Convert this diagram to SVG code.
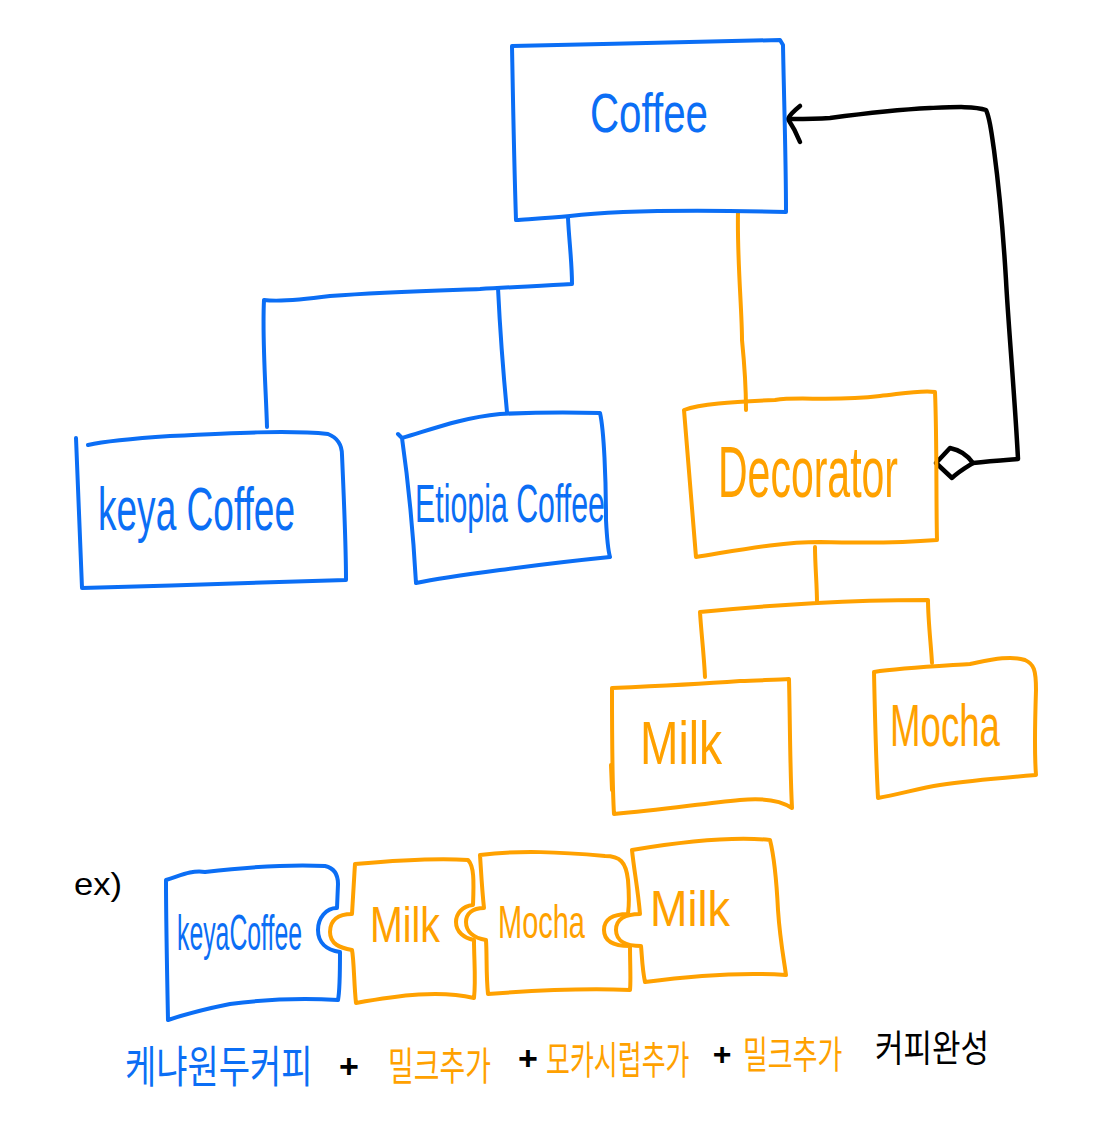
<svg xmlns="http://www.w3.org/2000/svg" width="1100" height="1126" viewBox="0 0 1100 1126">
<style>
.b{fill:none;stroke:#0b6ef5;stroke-width:4;stroke-linecap:round;stroke-linejoin:round}
.o{fill:none;stroke:#ffa100;stroke-width:4;stroke-linecap:round;stroke-linejoin:round}
.k{fill:none;stroke:#000;stroke-width:4.5;stroke-linecap:round;stroke-linejoin:round}
.tb{fill:#0b6ef5;font-family:"Liberation Sans",Arial,sans-serif}
.to{fill:#ffa100;font-family:"Liberation Sans",Arial,sans-serif}
.tk{fill:#000;font-family:"Liberation Sans",Arial,sans-serif}
.kb{fill:#0b6ef5;font-family:"Noto Sans CJK KR",sans-serif}
.ko{fill:#ffa100;font-family:"Noto Sans CJK KR",sans-serif}
.kk{fill:#000;font-family:"Noto Sans CJK KR",sans-serif}
.plus{fill:#000;font-family:"Liberation Sans",Arial,sans-serif;font-weight:bold;text-anchor:middle}
</style>
<rect width="1100" height="1126" fill="#fff"/>
<g id="connectors">
<path class="b" d="M568,218 C569,240 572,262 572,284 C540,286 510,287 480,289 C420,291 380,292 330,296 C300,300 280,302 264,300 C262,340 266,390 267,427"/>
<path class="b" d="M498,288 C500,330 503,370 507,412"/>
<path class="o" d="M738,212 C737,260 742,310 742,340 C744,360 746,390 746,410"/>
<path class="o" d="M815,547 C815,565 817,585 817,603 C780,605 740,608 700,612 C701,630 704,655 705,677"/>
<path class="o" d="M817,603 C850,601 890,600 928,600 C928,620 931,645 932,663"/>
<path class="k" d="M973,463 C990,461 1005,460 1018,459 C1015,400 1008,320 1006,280 C1003,230 998,180 994,150 C991,130 990,118 986,110 C975,106 955,107 930,108 C890,110 860,114 830,118 C815,119 800,119 792,119"/>
<path class="k" d="M936,463 L950,448 C960,450 968,456 973,463 C965,468 958,472 952,478 Z"/>
<path class="k" d="M800,106 C795,110 790,114 788,119 C792,125 796,132 800,142" stroke-width="6"/>
</g>
<g id="coffee">
<path class="b" d="M512,46 C600,44 700,42 780,40 L783,45 C784,100 786,160 786,212 C700,210 620,210 570,216 C550,218 530,219 516,220 C514,160 513,100 512,46 Z"/>
<text class="tb" x="590" y="132" font-size="56" textLength="118" lengthAdjust="spacingAndGlyphs">Coffee</text>
</g>
<g id="keya">
<path class="b" d="M88,445 C110,440 140,438 170,436 C230,433 290,430 328,434 C338,438 342,445 342,455 C344,500 346,550 346,580 C260,582 170,586 82,588 C80,540 78,490 76,438"/>
<text class="tb" x="98" y="530" font-size="62" textLength="197" lengthAdjust="spacingAndGlyphs">keya Coffee</text>
</g>
<g id="etiopia">
<path class="b" d="M398,434 L402,438 C430,430 460,418 500,414 C540,412 570,412 600,413 C604,430 606,480 606,520 C607,540 608,550 610,557 C580,560 530,566 500,570 C470,574 440,578 416,583 C413,530 408,480 402,438"/>
<text class="tb" x="415" y="522" font-size="54" textLength="190" lengthAdjust="spacingAndGlyphs">Etiopia Coffee</text>
</g>
<g id="decorator">
<path class="o" d="M684,410 C700,404 730,402 775,400 C800,396 830,402 880,396 C900,394 920,390 935,392 C937,440 936,500 937,540 C900,543 860,543 820,542 C780,542 740,550 696,557 C692,510 688,460 684,410 Z"/>
<text class="to" x="718" y="497" font-size="72" textLength="180" lengthAdjust="spacingAndGlyphs">Decorator</text>
</g>
<g id="milk">
<path class="o" d="M612,688 C660,686 700,684 740,681 C760,680 780,680 789,679 C790,720 790,770 792,808 C780,800 760,798 740,800 C700,804 660,810 614,814 C612,780 612,740 612,688 Z"/>
<path class="o" d="M611,765 L612,790"/>
<text class="to" x="640" y="764" font-size="62" textLength="82" lengthAdjust="spacingAndGlyphs">Milk</text>
</g>
<g id="mocha">
<path class="o" d="M874,672 C900,668 940,666 970,664 C990,660 1010,655 1025,660 C1034,664 1036,670 1036,690 C1035,720 1034,750 1036,775 C1000,778 960,782 940,785 C920,788 900,794 878,798 C876,760 875,720 874,672 Z"/>
<text class="to" x="890" y="746" font-size="60" textLength="110" lengthAdjust="spacingAndGlyphs">Mocha</text>
</g>
<g id="example">
<text class="tk" x="74" y="895" font-size="32" textLength="48" lengthAdjust="spacingAndGlyphs">ex)</text>
<path class="b" d="M166,880 C180,876 190,870 205,872 C240,868 290,864 325,866 C334,868 338,874 338,884 L337,908 C326,908 318,918 318,930 C318,942 326,950 340,952 C340,975 340,990 338,1000 C300,998 260,1000 230,1004 C200,1010 180,1016 168,1020 C167,970 166,920 166,880 Z"/>
<text class="tb" transform="translate(177,950) scale(1,1.45)" font-size="34" textLength="125" lengthAdjust="spacingAndGlyphs">keyaCoffee</text>
<path class="o" d="M355,864 C400,860 440,858 468,860 C474,866 474,880 473,905 C462,906 456,914 456,922 C456,932 464,938 474,940 C474,960 476,980 474,998 C440,990 400,995 356,1003 C354,985 354,960 352,950 C340,948 330,944 330,932 C330,920 338,914 352,914 C353,895 354,880 355,864 Z"/>
<text class="to" x="370" y="942" font-size="50" textLength="70" lengthAdjust="spacingAndGlyphs">Milk</text>
<path class="o" d="M480,855 C520,850 560,852 605,856 C620,856 626,862 628,880 C630,905 628,912 628,914 C612,914 604,920 604,930 C604,940 612,946 630,946 C630,965 631,980 630,990 C580,988 540,990 488,994 C486,975 487,955 486,940 C474,938 466,932 466,922 C466,914 472,908 484,908 C482,890 481,870 480,855 Z"/>
<text class="to" x="498" y="938" font-size="46" textLength="87" lengthAdjust="spacingAndGlyphs">Mocha</text>
<path class="o" d="M632,850 C680,842 730,836 770,840 C775,860 777,890 778,910 C780,940 784,960 786,975 C740,972 690,976 645,982 C642,968 642,955 641,946 C628,946 616,942 616,930 C616,920 624,914 640,914 C638,890 634,870 632,850 Z"/>
<text class="to" x="650" y="926" font-size="50" textLength="80" lengthAdjust="spacingAndGlyphs">Milk</text>
</g>
<g id="sentence">
<text class="kb" transform="translate(125,1083) scale(1,1.3)" font-size="34">케냐원두커피</text>
<text class="plus" x="349" y="1078" font-size="34">+</text>
<text class="ko" transform="translate(388,1080) scale(1,1.4)" font-size="28">밀크추가</text>
<text class="plus" x="528" y="1070" font-size="34">+</text>
<text class="ko" transform="translate(546,1074) scale(1,1.5)" font-size="26">모카시럽추가</text>
<text class="plus" x="722" y="1065" font-size="32">+</text>
<text class="ko" transform="translate(743,1068) scale(1,1.4)" font-size="27">밀크추가</text>
<text class="kk" transform="translate(875,1062) scale(1,1.2)" font-size="31">커피완성</text>
</g>
</svg>
